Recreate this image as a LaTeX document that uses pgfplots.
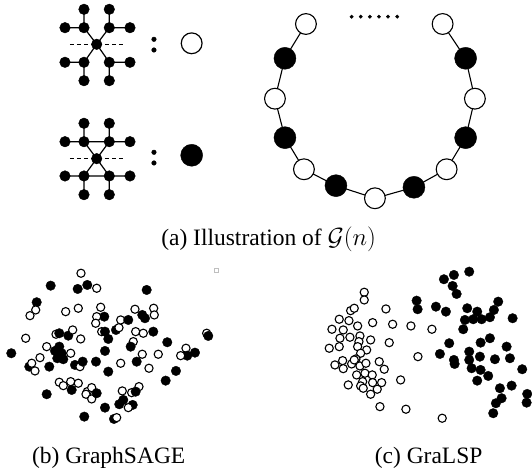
\documentclass[border=0pt]{standalone}
\usepackage{fontspec}
\setmainfont{Liberation Serif}
\usepackage{pgfplots}
\pgfplotsset{compat=1.18}
\pgfplotstableread{
x y c
81 273.3 o
50.7 285.7 f
77.7 289 f
87.3 285 f
96.7 288.3 o
36.7 302.3 f
35.7 310 o
30 315.7 o
65.7 311.7 o
78.3 308.3 o
100.7 307.3 o
104.3 316.7 f
96.7 316.7 o
95.7 323.3 o
101.7 331.7 o
105 331.7 f
108.3 339 f
116 330 f
119 327.7 o
120.7 320 o
128.3 320 f
25.7 338.3 o
56 334.3 o
59.3 333.3 f
68.3 335.7 f
72.7 330 o
80.7 339 o
46.7 346.7 o
59.3 346.7 f
55 351 f
61.7 353.3 f
63.3 359.3 f
70.7 353.3 o
57.3 358.3 f
11.3 353.3 f
40 357.7 o
29.3 366.7 f
31.7 363.3 o
35 371 o
49.3 366.7 f
75 365 f
80 366.7 o
82.7 361.7 f
96 361.7 f
105 351 f
108.3 371.7 f
120.7 363.3 o
59.3 382.3 o
63.3 385.7 o
70.7 381.7 o
78.3 383.3 o
71.7 390 f
46.7 394.3 f
87.3 391.7 o
91.7 387.7 o
86 394.3 o
91.7 399 o
96.7 393.3 f
84.3 416.7 f
105 407.7 f
114 419 f
116.7 417.7 o
146.7 290 f
135 309.3 o
153.7 308.3 o
142.3 315 f
145 318.3 f
154.3 315 o
135.7 331.7 o
143.3 333.3 o
153.3 331.7 f
133.3 341.7 o
130.7 346.7 f
167.3 342.3 f
186 348.3 o
187.3 355.7 f
180.7 355.7 o
195 352.7 f
206.7 333.3 o
208.3 336 f
142.3 354.3 o
158.3 354.3 o
136.7 361.7 f
149 368.3 o
176 371 f
165.7 380.7 f
139 386.7 o
122.3 391 o
131.7 392.7 o
135.7 391.7 f
123.3 400 f
119.3 404.3 f
132.7 405 f
128.3 407.7 o
}\sage
\pgfplotstableread{
x y
364.3 292.3
364.3 300
350.7 310.7
354.3 308.3
386 309
339.3 319.3
349 320.7
357.7 326
372.7 322.7
392.7 324.3
411 326
432 329.3
332 329.3
343.3 330
340 338.3
350 337.3
360 336
359 341.7
370.7 340
389.3 342.7
329.3 348.3
339.3 346.7
357.7 346.7
366.7 350
360.7 353.3
356 359
418 356.7
335 365
342.7 360.7
343.3 368.7
351.7 364
354.3 360
360 366
366 363.3
379.3 361.7
384.3 369.3
356.7 375
365 373.3
372.3 375
362.7 381.7
372.7 382.7
381.7 382.7
348.3 385
360.7 386
363.3 388.3
377.3 389.3
370.7 394.3
400.7 380
380 406.7
406 409.3
442.3 418.3
}\lspopen
\pgfplotstableread{
x y
416.7 300.7
417.7 309.3
444 279.3
454 275
469.3 271.7
452.7 286
456.7 294
436 306.7
446 311.7
467.3 308.3
477.3 311.7
465 320
473.3 319.3
481.7 319.3
490 317.3
494 310
498.3 301.7
512.7 318.3
463.3 329.3
449.3 343.3
480.7 342.7
490 338.3
506.7 346.7
440 354
469.3 351.7
454 360
454.7 364
480 356.7
469.3 360
495 359.3
510 358.3
471.7 368.3
480.7 370
488.3 376
477.3 380.7
522.3 369.3
500 388.3
511.7 385.7
501.7 398.3
496 403.3
493.3 413.3
527.3 394
526.7 402.7
}\lspfill
\begin{document}
\begin{tikzpicture}
\begin{axis}[width=532pt,height=474pt,scale only axis,
  xmin=0,xmax=532,ymin=0,ymax=474,y dir=reverse,hide axis,clip=false,
  unbounded coords=jump]
\addplot[draw=none] coordinates {(0,0) (532,474)};
% ---- graph 1 ----
\addplot[black,line width=1.1pt,dash pattern=on 4.5pt off 2.5pt] coordinates {(70,44.3) (123.3,44.3)};
\addplot[black,line width=1.2pt] coordinates {
 (84,9.3) (84,27.7) (96.7,44.3) (109.3,27.7) (109.3,9.3) (nan,nan)
 (65,27.7) (84,27.7) (nan,nan) (109.3,27.7) (130,27.7) (nan,nan)
 (84,80.7) (84,62.3) (96.7,44.3) (109.3,62.3) (109.3,80.7) (nan,nan)
 (65,62.3) (84,62.3) (nan,nan) (109.3,62.3) (130,62.3)};
\addplot[only marks,mark=*,mark size=5.3pt,black] coordinates {
 (96.7,44.3) (84,9.3) (109.3,9.3) (65,27.7) (84,27.7) (109.3,27.7) (130,27.7)
 (65,62.3) (84,62.3) (109.3,62.3) (130,62.3) (84,80.7) (109.3,80.7)};
% ---- graph 2 ----
\addplot[black,line width=1.1pt,dash pattern=on 4.5pt off 2.5pt] coordinates {(70,158.7) (123.3,158.7)};
\addplot[black,line width=1.2pt] coordinates {
 (84,123.3) (84,141.7) (96.7,158.7) (109.3,141.7) (109.3,123.3) (nan,nan)
 (65,141.7) (130,141.7) (nan,nan)
 (84,194.7) (84,176) (96.7,158.7) (109.3,176) (109.3,194.7) (nan,nan)
 (65,176) (130,176)};
\addplot[only marks,mark=*,mark size=5.3pt,black] coordinates {
 (96.7,158.7) (84,123.3) (109.3,123.3) (65,141.7) (84,141.7) (109.3,141.7) (130,141.7)
 (65,176) (84,176) (109.3,176) (130,176) (84,194.7) (109.3,194.7)};
% colons
\addplot[only marks,mark=*,mark size=2.3pt,black] coordinates {(154,39.3) (154,50) (154,152.3) (154,163)};
% big circles
\addplot[only marks,mark=*,mark size=10.4pt,mark options={draw=black,fill=white,line width=1.2pt}] coordinates {(191.7,43.3)};
\addplot[only marks,mark=*,mark size=11pt,black] coordinates {(191.7,155.3)};
% ---- chain ----
\addplot[black,line width=1.1pt] coordinates {
 (306,24) (285,58.3) (275,98.7) (285,137.7) (304,169.3) (336,185.7) (375,198.3)
 (414,187.3) (446.7,169.3) (465.7,137.7) (475,98.7) (465.7,58.3) (442.7,24)};
\addplot[only marks,mark=*,mark size=10.4pt,mark options={draw=black,fill=white,line width=1.1pt}] coordinates {
 (306,24) (275,98.7) (304,169.3) (375,198.3) (446.7,169.3) (475,98.7) (442.7,24)};
\addplot[only marks,mark=*,mark size=11pt,black] coordinates {
 (285,58.3) (285,137.7) (336,185.7) (414,187.3) (465.7,137.7) (465.7,58.3)};
\addplot[only marks,mark=*,mark size=1.7pt,black] coordinates {
 (351.7,16.7) (360.8,16.7) (369.9,16.7) (379,16.7) (388.1,16.7) (397.3,16.7)};
% ---- scatter (b) ----
\addplot[scatter,only marks,scatter src=explicit symbolic,
  scatter/classes={o={mark=*,mark size=4.1pt,draw=black,fill=white,line width=1.1pt},
                   f={mark=*,mark size=4.8pt,draw=black,fill=black,line width=0.3pt}}]
  table[x=x,y=y,meta=c] {\sage};
% ---- scatter (c) ----
\addplot[only marks,mark=*,mark size=4.1pt,mark options={draw=black,fill=white,line width=1.1pt}] table[x=x,y=y] {\lspopen};
\addplot[only marks,mark=*,mark size=4.8pt,mark options={draw=black,fill=black,line width=0.3pt}] table[x=x,y=y] {\lspfill};
% artifacts
\addplot[only marks,mark=square,mark size=2.2pt,mark options={draw=black!25,line width=0.5pt}] coordinates {(216,270)};
% captions
\node[font=\fontsize{23.5}{26}\selectfont] at (268.7,239.5) {(a) Illustration of $\mathcal{G}(n)$};
\node[font=\fontsize{23.5}{26}\selectfont] at (108.7,457.5) {(b) GraphSAGE};
\node[font=\fontsize{23.5}{26}\selectfont] at (428.7,457.5) {(c) GraLSP};
\end{axis}
\end{tikzpicture}
\end{document}
